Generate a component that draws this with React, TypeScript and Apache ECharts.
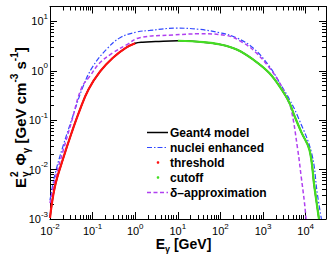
import React, { useEffect, useRef } from 'react';
import * as echarts from 'echarts';

// ---- data ----
const geantE = [0.01, 0.013, 0.02, 0.032, 0.05, 0.08, 0.15, 0.3, 0.6, 1.0, 1.5, 3, 10, 40, 100, 240, 580, 1400, 2900, 4200, 5500, 8000, 12300, 16000, 20500];
const geantY = [0.00105, 0.0045, 0.016, 0.055, 0.16, 0.42, 0.97, 1.83, 2.9, 3.6, 3.8, 3.9, 4.05, 3.8, 3.4, 2.7, 1.7, 0.9, 0.385, 0.22, 0.12, 0.056, 0.025, 0.0045, 0.001];

const thresholdE = [0.01, 0.013, 0.02, 0.032, 0.05, 0.08, 0.15, 0.3, 0.6, 1.0];
const thresholdY = [0.00105, 0.0045, 0.016, 0.055, 0.16, 0.42, 0.97, 1.83, 2.9, 3.6];

const cutoffE = [10, 40, 100, 240, 580, 1400, 2900, 4200, 5500, 8000, 12300, 16000, 20500];
const cutoffY = [4.05, 3.8, 3.4, 2.7, 1.7, 0.9, 0.385, 0.22, 0.12, 0.056, 0.025, 0.0045, 0.001];

const nucleiE = [0.01, 0.013, 0.02, 0.032, 0.06, 0.1, 0.21, 0.44, 1.07, 2.2, 9.3, 32, 96, 236, 575, 1400, 2450, 4200, 6500, 13700, 18900, 23400];
const nucleiY = [0.0024, 0.0078, 0.029, 0.1, 0.485, 1.2, 2.7, 4.67, 6.07, 6.56, 7.3, 6.9, 5.9, 4.67, 2.93, 1.24, 0.57, 0.26, 0.12, 0.022, 0.0031, 0.001];

const deltaE = [0.01, 0.013, 0.02, 0.032, 0.055, 0.0865, 0.148, 0.3, 0.625, 1.28, 7.7, 32, 137, 340, 690, 1410, 2450, 3470, 4560, 6530, 7850, 9400, 10200];
const deltaY = [0.0021, 0.0062, 0.023, 0.093, 0.45, 0.78, 1.45, 2.31, 3.35, 4.68, 5.3, 5.6, 5.2, 3.7, 2.31, 1.15, 0.57, 0.3, 0.166, 0.025, 0.0072, 0.0021, 0.001];

const xMajor = [0.01, 0.1, 1, 10, 100, 1000, 10000];
const yMajor = [0.001, 0.01, 0.1, 1, 10];
const minorMult = [2, 3, 4, 5, 6, 7, 8, 9];

const legendNames = ['Geant4 model', 'nuclei enhanced', 'threshold', 'cutoff', 'δ–approximation'];

const X_MIN = 0.01, X_MAX = 30000, Y_MIN = 0.001, Y_MAX = 20;

const F = 'Liberation Sans, Arial, Helvetica, sans-serif';

const pairs = (xs: number[], ys: number[]) => xs.map((x, i) => [x, ys[i]]);
const minorsOf = (majors: number[], lo: number, hi: number) => {
  const out: number[] = [];
  const decades = [...majors, majors[majors.length - 1] * 10];
  decades.forEach((m) => minorMult.forEach((k) => { const v = m * k; if (v >= lo && v <= hi * 1.0001) out.push(v); }));
  return out;
};

const COLORS = {
  geant: '#000000',
  nuclei: '#3048ff',
  threshold: '#ff1010',
  cutoff: '#44dd22',
  delta: '#b040f0',
};

const expLabel = (v: number) => {
  const e = Math.round(Math.log10(v));
  return `{b|10}{s|${e}}`;
};

const labelRich = {
  b: { fontSize: 11, lineHeight: 18, fontFamily: F, color: '#000', verticalAlign: 'middle' },
  s: { fontSize: 8, lineHeight: 8, fontFamily: F, color: '#000', verticalAlign: 'top' },
};

function makeAxes(dim: 'x' | 'y') {
  const isX = dim === 'x';
  const majors = isX ? xMajor : yMajor;
  const lo = isX ? X_MIN : Y_MIN;
  const hi = isX ? X_MAX : Y_MAX;
  const minors = minorsOf(majors, lo, hi);
  const posA = isX ? 'bottom' : 'left';
  const posB = isX ? 'top' : 'right';
  const base = {
    type: 'log',
    logBase: 10,
    min: lo,
    max: hi,
    splitLine: { show: false },
    minorTick: { show: false },
    minorSplitLine: { show: false },
  };
  return [
    {
      ...base,
      position: posA,
      axisLine: { show: true, lineStyle: { color: '#000', width: 1 } },
      axisTick: { show: true, inside: true, length: 7, customValues: majors, lineStyle: { color: '#000', width: 1 } },
      axisLabel: {
        show: true,
        customValues: majors,
        formatter: expLabel,
        rich: labelRich,
        margin: isX ? 3 : 2,
      },
    },
    {
      ...base,
      position: posB,
      axisLine: { show: true, lineStyle: { color: '#000', width: 1 } },
      axisTick: { show: true, inside: true, length: 7, customValues: majors, lineStyle: { color: '#000', width: 1 } },
      axisLabel: { show: false },
    },
    {
      ...base,
      position: posA,
      axisLine: { show: false },
      axisTick: { show: true, inside: true, length: 4, customValues: minors, lineStyle: { color: '#000', width: 1 } },
      axisLabel: { show: false },
    },
    {
      ...base,
      position: posB,
      axisLine: { show: false },
      axisTick: { show: true, inside: true, length: 4, customValues: minors, lineStyle: { color: '#000', width: 1 } },
      axisLabel: { show: false },
    },
  ];
}

export default function App() {
  const ref = useRef<HTMLDivElement>(null);

  useEffect(() => {
    if (!ref.current) return;
    const chart = echarts.init(ref.current, undefined, { renderer: 'svg' });

    const boldRich = {
      m: { fontSize: 14, fontWeight: 'bold', lineHeight: 20, fontFamily: F, color: '#000', verticalAlign: 'middle' },
      p: { fontSize: 9, fontWeight: 'bold', lineHeight: 9, fontFamily: F, color: '#000', verticalAlign: 'top' },
      b: { fontSize: 9, fontWeight: 'bold', lineHeight: 9, fontFamily: F, color: '#000', verticalAlign: 'bottom' },
    };
    const yRich = {
      m: { fontSize: 15, fontWeight: 'bold', lineHeight: 22, fontFamily: F, color: '#000', verticalAlign: 'middle' },
      p: { fontSize: 10, fontWeight: 'bold', lineHeight: 10, fontFamily: F, color: '#000', verticalAlign: 'top' },
      b: { fontSize: 10, fontWeight: 'bold', lineHeight: 10, fontFamily: F, color: '#000', verticalAlign: 'bottom' },
    };

    const legendRowY = [132.5, 147.5, 162.5, 177.5, 192.5];
    const lx0 = 147, lx1 = 168, tx = 170;
    const legendText = (i: number) => ({
      type: 'text',
      x: tx,
      y: legendRowY[i],
      style: { text: legendNames[i], fontSize: 12, fontWeight: 'bold', fontFamily: F, fill: '#000', align: 'left', verticalAlign: 'middle' },
    });

    const sm = 0.4;
    const option: any = {
      animation: false,
      backgroundColor: '#fff',
      grid: { left: 50, right: 4, top: 6.5, bottom: 38, containLabel: false },
      xAxis: makeAxes('x'),
      yAxis: makeAxes('y'),
      series: [
        {
          name: legendNames[0], type: 'line', data: pairs(geantE, geantY), symbol: 'none', smooth: sm,
          lineStyle: { color: COLORS.geant, width: 1.5 }, z: 2,
        },
        {
          name: legendNames[1], type: 'line', data: pairs(nucleiE, nucleiY), symbol: 'none', smooth: sm,
          lineStyle: { color: COLORS.nuclei, width: 1.2, type: [5, 2, 1.5, 2] }, z: 3,
        },
        {
          name: legendNames[4], type: 'line', data: pairs(deltaE, deltaY), symbol: 'none', smooth: sm,
          lineStyle: { color: COLORS.delta, width: 1.5, type: [4, 2.5] }, z: 3,
        },
        {
          name: legendNames[2], type: 'line', data: pairs(thresholdE, thresholdY), symbol: 'none', smooth: sm,
          lineStyle: { color: COLORS.threshold, width: 2.2 }, z: 4,
        },
        {
          name: legendNames[3], type: 'line', data: pairs(cutoffE, cutoffY), symbol: 'none', smooth: sm,
          lineStyle: { color: COLORS.cutoff, width: 2.2 }, z: 4,
        },
      ],
      graphic: [
        // y-axis title
        {
          type: 'group', x: 20, y: 188, rotation: Math.PI / 2,
          children: [
            { type: 'text', x: 0, y: 0, style: { text: 'E', fontSize: 15, fontWeight: 'bold', fontFamily: F, fill: '#000', align: 'left', verticalAlign: 'middle' } },
            { type: 'text', x: 11, y: -5.5, style: { text: '2', fontSize: 10, fontWeight: 'bold', fontFamily: F, fill: '#000', align: 'left', verticalAlign: 'middle' } },
            { type: 'text', x: 11, y: 5.5, style: { text: 'γ', fontSize: 10, fontWeight: 'bold', fontFamily: F, fill: '#000', align: 'left', verticalAlign: 'middle' } },
            {
              type: 'text', x: 22.5, y: 0,
              style: { text: '{m|Φ}{b|γ}{m| [GeV cm}{p|-3}{m| s}{p|-1}{m|]}', rich: yRich, fontFamily: F, align: 'left', verticalAlign: 'middle' },
            },
          ],
        },
        // x-axis title
        {
          type: 'text', x: 183.5, y: 243.5,
          style: { text: '{m|E}{b|γ}{m| [GeV]}', rich: boldRich, fontFamily: F, align: 'center', verticalAlign: 'middle' },
        },
        // legend
        { type: 'line', shape: { x1: lx0, y1: legendRowY[0], x2: lx1, y2: legendRowY[0] }, style: { stroke: COLORS.geant, lineWidth: 1.5 } },
        { type: 'line', shape: { x1: lx0, y1: legendRowY[1], x2: lx1, y2: legendRowY[1] }, style: { stroke: COLORS.nuclei, lineWidth: 1.2, lineDash: [5, 2, 1.5, 2] } },
        { type: 'circle', shape: { cx: 158, cy: legendRowY[2], r: 1.3 }, style: { fill: COLORS.threshold } },
        { type: 'circle', shape: { cx: 158, cy: legendRowY[3], r: 1.3 }, style: { fill: COLORS.cutoff } },
        { type: 'line', shape: { x1: lx0, y1: legendRowY[4], x2: lx1, y2: legendRowY[4] }, style: { stroke: COLORS.delta, lineWidth: 1.5, lineDash: [4, 2.5] } },
        legendText(0), legendText(1), legendText(2), legendText(3), legendText(4),
      ],
    };

    chart.setOption(option);
    return () => chart.dispose();
  }, []);

  return <div ref={ref} style={{ position: 'fixed', left: 0, top: 0, width: 330, height: 257, background: '#fff' }} />;
}
